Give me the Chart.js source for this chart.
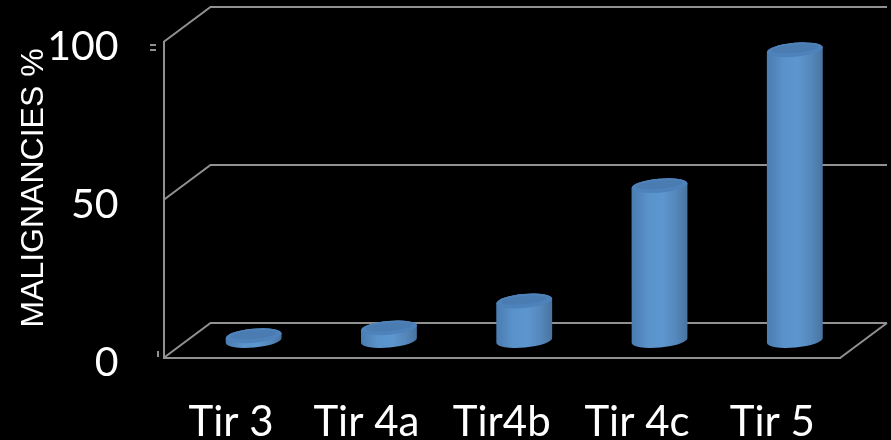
<!DOCTYPE html>
<html>
<head>
<meta charset="utf-8">
<title>Malignancies by Tir class</title>
<script src="https://cdn.jsdelivr.net/npm/chart.js@4"></script>
<style>
  html, body { margin: 0; background: #000; }
  canvas { display: block; }
</style>
</head>
<body>
<canvas id="grafico" width="891" height="440"></canvas>
<script>
const categories = ['Tir 3', 'Tir 4a', 'Tir4b', 'Tir 4c', 'Tir 5'];
const malignancies = [1.5, 4, 12.5, 49, 92];
const yTicks = [0, 50, 100];

// depth of the fake 3d box, in pixels
const depthX = 47;
const depthY = 35;
const lineColor = '#919191';

// bars are drawn as cylinders standing in the middle of the floor
const tilt = -0.09;
const radiusY = 7;
Chart.BarElement.prototype.draw = function (ctx) {
  const { x, y, base, width } = this.getProps(['x', 'y', 'base', 'width']);
  const cx = x + depthX / 2 - 1;
  const top = y - depthY / 2;
  const bottom = base - depthY / 2;
  const rx = width / 2;
  const dy = Math.sin(tilt) * rx;

  const body = ctx.createLinearGradient(cx - rx, 0, cx + rx, 0);
  body.addColorStop(0, '#4a7cb0');
  body.addColorStop(0.3, '#5a92ca');
  body.addColorStop(0.55, '#5d97cf');
  body.addColorStop(0.8, '#5587bb');
  body.addColorStop(1, '#48739f');

  ctx.save();
  ctx.beginPath();
  ctx.ellipse(cx, bottom, rx, radiusY, tilt, 0, Math.PI);
  ctx.lineTo(cx - rx, top - dy);
  ctx.ellipse(cx, top, rx, radiusY, tilt, Math.PI, Math.PI * 2);
  ctx.closePath();
  ctx.fillStyle = body;
  ctx.fill();

  // lid
  ctx.beginPath();
  ctx.ellipse(cx, top, rx, radiusY, tilt, 0, Math.PI * 2);
  ctx.fillStyle = '#4e82ba';
  ctx.fill();
  ctx.beginPath();
  ctx.ellipse(cx, top - 1, rx - 5, radiusY - 3, tilt, 0, Math.PI * 2);
  ctx.fillStyle = '#4a7bb1';
  ctx.fill();
  ctx.restore();
};

const boxPlugin = {
  id: 'box3d',
  beforeDatasetsDraw(chart) {
    const { ctx, chartArea: area, scales: { y } } = chart;
    ctx.save();
    ctx.strokeStyle = lineColor;
    ctx.lineWidth = 2;

    // back wall lines and the slanted side of each one
    yTicks.forEach(v => {
      const py = y.getPixelForValue(v);
      ctx.beginPath();
      ctx.moveTo(area.left, py);
      ctx.lineTo(area.left + depthX, py - depthY);
      ctx.lineTo(area.right + depthX, py - depthY);
      ctx.stroke();
    });

    // right edge of the floor
    const floor = y.getPixelForValue(0);
    ctx.beginPath();
    ctx.moveTo(area.right, floor);
    ctx.lineTo(area.right + depthX, floor - depthY);
    ctx.stroke();

    // little tick remains left of the axis
    const top = y.getPixelForValue(100);
    ctx.beginPath();
    ctx.moveTo(150, top + 3);
    ctx.lineTo(156, top + 3);
    ctx.moveTo(150, top + 8);
    ctx.lineTo(156, top + 8);
    ctx.moveTo(158, floor - 7);
    ctx.lineTo(158, floor - 1);
    ctx.stroke();
    ctx.restore();
  },
  afterDraw(chart) {
    // axis name sits a bit above the middle of the axis
    const { ctx } = chart;
    ctx.save();
    ctx.translate(34, 188);
    ctx.rotate(-Math.PI / 2);
    ctx.fillStyle = '#fff';
    ctx.font = '32px "Liberation Sans"';
    ctx.textAlign = 'center';
    ctx.textBaseline = 'middle';
    ctx.fillText('MALIGNANCIES %', 0, 0);
    ctx.restore();
  }
};

new Chart(document.getElementById('grafico'), {
  type: 'bar',
  data: {
    labels: categories,
    datasets: [
      {
        label: 'Malignancies',
        data: malignancies,
        categoryPercentage: 0.414,
        barPercentage: 1
      }
    ]
  },
  options: {
    responsive: false,
    animation: false,
    layout: { padding: { top: 42, right: 51, bottom: 0, left: 0 } },
    plugins: {
      legend: { display: false },
      tooltip: { enabled: false }
    },
    scales: {
      x: {
        afterFit(scale) {
          scale.height = 82;
          scale.paddingLeft = 0;
          scale.paddingRight = 0;
        },
        grid: { display: false },
        border: { color: lineColor, width: 2 },
        ticks: {
          color: '#fff',
          padding: 31,
          maxRotation: 0,
          autoSkip: false,
          font: { family: 'Lato', size: 42 }
        }
      },
      y: {
        min: 0,
        max: 100,
        afterFit(scale) {
          scale.width = 163.5;
          scale.paddingTop = 0;
          scale.paddingBottom = 0;
        },
        afterBuildTicks(scale) { scale.ticks = yTicks.map(v => ({ value: v })); },
        grid: { display: false, drawTicks: false },
        border: { color: lineColor, width: 2 },
        ticks: {
          color: '#fff',
          padding: 45,
          labelOffset: 5,
          font: { family: 'Lato', size: 41 }
        }
      }
    }
  },
  plugins: [boxPlugin]
});
</script>
</body>
</html>
